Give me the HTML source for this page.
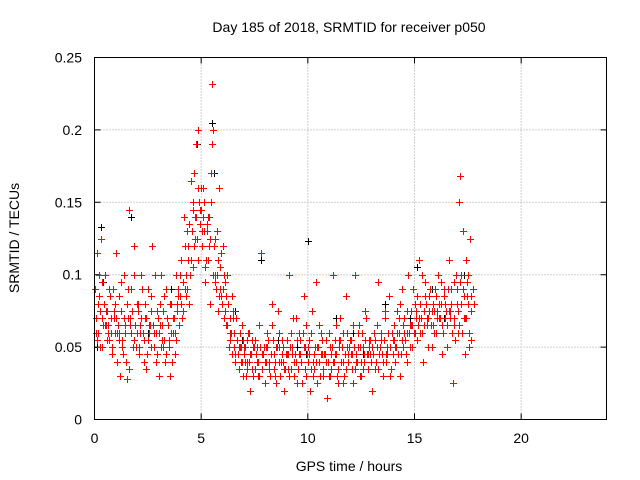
<!DOCTYPE html>
<html><head><meta charset="utf-8">
<style>
html,body{margin:0;padding:0;background:#fff;}
svg{display:block;font-family:"Liberation Sans",sans-serif;}
</style></head>
<body>
<svg id="chart" width="640" height="480" viewBox="0 0 640 480" xmlns="http://www.w3.org/2000/svg">
<text x="349" y="32" font-size="14" text-anchor="middle">Day 185 of 2018, SRMTID for receiver p050</text>
<text transform="translate(19,238) rotate(-90)" font-size="14" text-anchor="middle">SRMTID / TECUs</text>
<text x="349" y="471" font-size="14" text-anchor="middle">GPS time / hours</text>
<g id="grid"></g>
<g id="ticks"></g>
<g id="black-series"></g>
<g id="red-series"></g>
<rect x="94.5" y="57.5" width="512" height="362" fill="none" stroke="#000" stroke-width="1"/>
</svg>
<script>
const xTicks=[0,5,10,15,20];
const xTickLabels=["0","5","10","15","20"];
const yTicks=[0,0.05,0.1,0.15,0.2,0.25];
const yTickLabels=["0","0.05","0.1","0.15","0.2","0.25"];
const redTimes=[0.05,0.1,0.15,0.2,0.3,0.35,0.4,0.5,0.55,0.6,0.7,0.75,0.8,0.9,0.95,
1.0,1.05,1.1,1.2,1.25,1.3,1.4,1.45,1.5,1.6,1.65,1.7,1.8,1.85,1.9,
2.0,2.05,2.1,2.2,2.3,2.35,2.4,2.5,2.6,2.65,2.7,2.8,2.9,2.95,
3.0,3.05,3.1,3.2,3.25,3.3,3.4,3.5,3.55,3.6,3.7,3.8,3.85,3.9,
4.0,4.05,4.1,4.2,4.25,4.3,4.4,4.45,4.5,4.55,4.6,4.65,4.7,4.75,4.8,4.85,4.9,4.95,
5.0,5.05,5.1,5.15,5.2,5.3,5.35,5.4,5.45,5.5,5.55,5.6,5.65,5.7,5.8,5.85,5.9,5.95,
6.0,6.05,6.1,6.2,6.25,6.3,6.4,6.45,6.5,6.6,6.7,6.75,6.8,6.9,6.95,
7.0,7.1,7.2,7.25,7.3,7.4,7.5,7.6,7.7,7.8,7.9,
8.0,8.1,8.2,8.3,8.4,8.5,8.6,8.7,8.8,8.9,
9.0,9.1,9.2,9.3,9.4,9.5,9.6,9.7,9.8,9.9,
10.0,10.1,10.2,10.3,10.4,10.5,10.6,10.7,10.8,10.9,
11.0,11.1,11.2,11.3,11.4,11.5,11.6,11.7,11.8,11.9,
12.0,12.1,12.2,12.3,12.4,12.5,12.6,12.7,12.8,12.9,
13.0,13.1,13.2,13.3,13.4,13.5,13.6,13.7,13.8,13.9,
14.0,14.1,14.2,14.3,14.4,14.5,14.6,14.7,14.8,14.9,
15.0,15.1,15.2,15.3,15.4,15.5,15.6,15.7,15.8,15.9,
16.0,16.1,16.2,16.3,16.4,16.5,16.6,16.7,16.8,16.9,
17.0,17.05,17.1,17.15,17.2,17.25,17.3,17.35,17.4,17.5,17.55,17.6,17.65];
const redValues=[0.07,0.115,0.06,0.085,0.125,0.05,0.065,0.1,0.075,0.055,0.09,0.06,0.045,0.07,0.08,
0.115,0.04,0.065,0.03,0.075,0.055,0.1,0.06,0.028,0.145,0.07,0.09,0.05,0.12,0.065,
0.06,0.08,0.045,0.1,0.055,0.07,0.035,0.09,0.065,0.05,0.12,0.06,0.04,0.075,
0.03,0.065,0.1,0.05,0.085,0.04,0.07,0.055,0.03,0.08,0.06,0.1,0.075,0.09,
0.085,0.11,0.07,0.14,0.09,0.1,0.12,0.08,0.165,0.13,0.105,0.17,0.14,0.19,0.125,0.2,0.15,0.135,
0.145,0.12,0.16,0.13,0.095,0.11,0.14,0.08,0.17,0.232,0.2,0.12,0.1,0.09,0.075,0.16,0.105,0.085,
0.12,0.07,0.095,0.065,0.08,0.05,0.06,0.045,0.075,0.04,0.055,0.035,0.05,0.065,0.03,
0.045,0.03,0.06,0.04,0.02,0.055,0.035,0.05,0.03,0.115,0.045,
0.025,0.06,0.04,0.08,0.035,0.05,0.075,0.03,0.045,0.02,
0.055,0.1,0.035,0.07,0.045,0.025,0.06,0.04,0.085,0.03,
0.05,0.02,0.075,0.035,0.095,0.04,0.06,0.03,0.045,0.015,
0.06,0.035,0.1,0.045,0.025,0.07,0.05,0.03,0.085,0.04,
0.055,0.025,0.1,0.04,0.065,0.03,0.05,0.075,0.035,0.045,
0.02,0.06,0.04,0.095,0.05,0.03,0.07,0.045,0.085,0.035,
0.055,0.04,0.075,0.03,0.09,0.06,0.045,0.1,0.065,0.05,
0.08,0.055,0.11,0.07,0.04,0.095,0.065,0.085,0.05,0.075,
0.06,0.1,0.07,0.045,0.09,0.065,0.11,0.08,0.025,0.055,
0.09,0.06,0.15,0.168,0.1,0.13,0.07,0.045,0.11,0.08,0.05,0.125,0.085];
const denseTimes=[0.25,0.65,1.15,1.55,2.15,2.55,3.15,3.45,3.75,4.15,4.35,4.6,5.25,5.75,6.15,6.35,6.55,6.85,
7.05,7.15,7.35,7.45,7.65,7.85,8.05,8.25,8.45,8.65,8.85,9.05,9.25,9.45,9.65,9.85,
10.05,10.25,10.45,10.65,10.85,11.05,11.25,11.45,11.65,11.85,12.05,12.25,12.45,12.65,12.85,
13.05,13.25,13.45,13.65,13.85,14.05,14.25,14.45,14.65,14.85,15.05,15.25,15.45,15.65,15.85,
16.05,16.25,16.45,16.65,16.85,17.45];
const denseValues=[0.075,0.065,0.06,0.07,0.065,0.06,0.055,0.065,0.06,0.095,0.13,0.145,0.13,0.1,0.085,0.07,0.06,0.05,
0.05,0.04,0.045,0.05,0.04,0.045,0.05,0.045,0.04,0.05,0.04,0.045,0.05,0.04,0.045,0.05,
0.045,0.04,0.05,0.045,0.04,0.05,0.045,0.055,0.04,0.05,0.045,0.04,0.05,0.045,0.055,
0.045,0.05,0.055,0.045,0.05,0.055,0.06,0.05,0.06,0.065,0.07,0.06,0.075,0.07,0.065,
0.075,0.08,0.07,0.075,0.07,0.095];
const sampleStartA=0.03;
const sampleStartB=0.07;
const sampleStep=0.1;
const sampledValuesA=[0.09,0.055,0.1,0.07,0.08,0.065,0.06,0.085,0.05,0.075,
0.07,0.055,0.095,0.045,0.065,0.08,0.035,0.06,0.1,0.05,
0.075,0.06,0.09,0.04,0.07,0.055,0.085,0.065,0.1,0.045,
0.06,0.05,0.075,0.045,0.065,0.08,0.04,0.07,0.055,0.085,
0.1,0.075,0.12,0.09,0.135,0.11,0.15,0.125,0.16,0.145,
0.13,0.15,0.11,0.14,0.125,0.19,0.095,0.13,0.085,0.115,
0.09,0.075,0.1,0.06,0.085,0.05,0.07,0.045,0.06,0.04,
0.05,0.035,0.06,0.045,0.03,0.055,0.04,0.065,0.035,0.05,
0.04,0.055,0.03,0.065,0.045,0.025,0.06,0.04,0.05,0.035,
0.045,0.03,0.06,0.04,0.07,0.035,0.055,0.025,0.05,0.065,
0.04,0.06,0.03,0.05,0.025,0.065,0.045,0.035,0.055,0.04,
0.03,0.05,0.04,0.065,0.035,0.055,0.025,0.045,0.06,0.05,
0.045,0.065,0.035,0.05,0.03,0.06,0.04,0.07,0.045,0.055,
0.05,0.035,0.065,0.045,0.06,0.04,0.075,0.05,0.03,0.06,
0.065,0.05,0.045,0.08,0.055,0.07,0.04,0.06,0.075,0.09,
0.06,0.085,0.07,0.1,0.065,0.08,0.05,0.09,0.075,0.06,
0.085,0.07,0.095,0.06,0.08,0.05,0.075,0.09,0.065,0.1,
0.075,0.095,0.06,0.085,0.07,0.1,0.055,0.09];
const sampledValuesB=[0.06,0.08,0.05,0.095,0.065,0.075,0.055,0.07,0.09,0.06,
0.06,0.085,0.05,0.07,0.04,0.09,0.065,0.075,0.055,0.08,
0.05,0.07,0.06,0.08,0.045,0.065,0.075,0.05,0.06,0.07,
0.08,0.065,0.055,0.09,0.05,0.06,0.07,0.045,0.08,0.065,
0.08,0.095,0.085,0.11,0.1,0.13,0.12,0.14,0.11,0.16,
0.14,0.105,0.135,0.12,0.15,0.1,0.125,0.11,0.09,0.08,
0.1,0.065,0.08,0.055,0.07,0.045,0.055,0.05,0.04,0.055,
0.04,0.055,0.045,0.035,0.05,0.045,0.03,0.05,0.045,0.04,
0.05,0.035,0.045,0.055,0.03,0.05,0.04,0.055,0.035,0.045,
0.035,0.05,0.045,0.03,0.055,0.045,0.04,0.06,0.035,0.045,
0.055,0.035,0.045,0.04,0.05,0.03,0.055,0.045,0.04,0.03,
0.045,0.04,0.055,0.03,0.05,0.04,0.06,0.035,0.045,0.055,
0.035,0.05,0.045,0.06,0.04,0.035,0.055,0.045,0.05,0.04,
0.045,0.055,0.035,0.05,0.045,0.055,0.04,0.06,0.05,0.045,
0.05,0.06,0.07,0.045,0.065,0.055,0.075,0.05,0.065,0.06,
0.075,0.065,0.08,0.06,0.085,0.07,0.075,0.065,0.08,0.09,
0.07,0.08,0.065,0.085,0.075,0.09,0.07,0.06,0.095,0.08,
0.065,0.08,0.09,0.07,0.085,0.06,0.075,0.08];
const blackTimes=[0.3,0.4,1.7,2.5,3.6,4.8,5.5,5.6,6.6,7.8,8.6,9.5,10.0,10.5,11.3,12.6,13.6,14.2,15.1,15.8,16.4,17.3,0.1,2.9,6.9,9.9,12.1,14.8];
const blackValues=[0.133,0.095,0.14,0.06,0.09,0.19,0.205,0.17,0.075,0.11,0.055,0.05,0.123,0.04,0.07,0.045,0.08,0.06,0.105,0.09,0.07,0.1,0.05,0.06,0.055,0.045,0.06,0.07];

const NS="http://www.w3.org/2000/svg";
const X0=94.5,X1=606.5,Y0=419.5,Y1=57.5;
function xScale(t){return X0+(t/24)*(X1-X0);}
function yScale(v){return Y0-(v/0.25)*(Y0-Y1);}
const grid=document.getElementById('grid'),ticks=document.getElementById('ticks');
function mk(tag,attrs,parent){const e=document.createElementNS(NS,tag);for(const k in attrs)e.setAttribute(k,attrs[k]);parent.appendChild(e);return e;}
xTicks.forEach((t,i)=>{
  const x=xScale(t);
  if(t>0){const g=mk('line',{x1:x,x2:x,y1:Y0,y2:Y1,stroke:'#a0a0a0','stroke-dasharray':'1,2'},grid);
  
  }
  const tk=mk('path',{d:`M${x},${Y0}v-6M${x},${Y1}v6`,stroke:'#000'},ticks);
  
  
  const lb=mk('text',{x:x,y:443,'font-size':14,'text-anchor':'middle'},ticks);
  lb.textContent=xTickLabels[i];
  
  
});
yTicks.forEach((v,i)=>{
  const y=yScale(v);
  if(v>0&&v<0.25){const g=mk('line',{x1:X0,x2:X1,y1:y,y2:y,stroke:'#a0a0a0','stroke-dasharray':'1,2'},grid);
  
  }
  const tk=mk('path',{d:`M${X0},${y}h6M${X1},${y}h-6`,stroke:'#000'},ticks);
  
  
  const lb=mk('text',{x:82,y:y+5,'font-size':14,'text-anchor':'end'},ticks);
  lb.textContent=yTickLabels[i];
  
  
});
function plus(ts,vs,color,parent,name){
  ts.forEach((t,i)=>{
    const x=Math.round(xScale(t))+0.5,y=Math.round(yScale(vs[i]))+0.5;
    const p=mk('path',{d:`M${x-3.5},${y}h7M${x},${y-3.5}v7`,stroke:color,'stroke-width':1,fill:'none'},parent);
    
    
  });
}
function sampledTimes(start,vals){return vals.map((v,i)=>start+i*sampleStep);}
const bg=document.getElementById('black-series'),rg=document.getElementById('red-series');
plus(blackTimes,blackValues,'#000',bg,'black-point');
plus(sampledTimes(sampleStartA,sampledValuesA),sampledValuesA,'#f00',rg,'red-point');
plus(sampledTimes(sampleStartB,sampledValuesB),sampledValuesB,'#f00',rg,'red-point');
plus(denseTimes,denseValues,'#f00',rg,'red-point');
plus(redTimes,redValues,'#f00',rg,'red-point');
</script>
</body></html>
